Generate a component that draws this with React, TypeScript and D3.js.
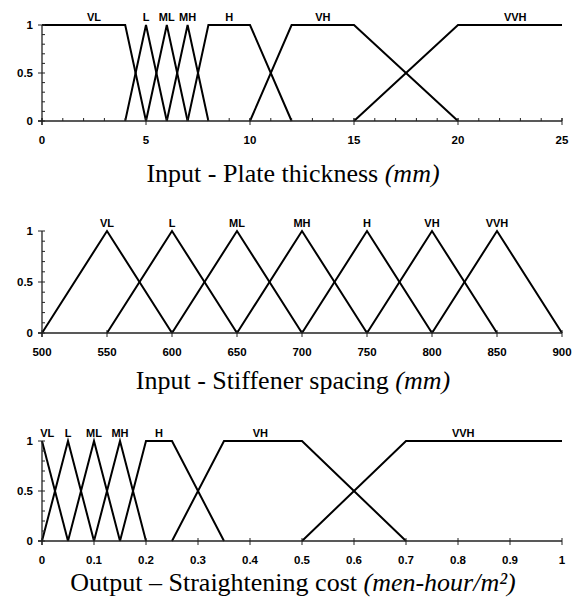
import React from 'react';
import * as d3 from 'd3';

// membership sets as trapezoids [a, b, c, d]: 0 at a, 1 from b to c, 0 at d
const setNames = ['VL', 'L', 'ML', 'MH', 'H', 'VH', 'VVH'];

const thicknessSets = [
  [0, 0, 4, 5], [4, 5, 5, 6], [5, 6, 6, 7], [6, 7, 7, 8],
  [7, 8, 10, 12], [10, 12, 15, 20], [15, 20, 25, 25],
];
const thicknessLabelX = [2.5, 5, 6, 7, 9, 13.5, 22.75];
const thicknessTicks = [0, 5, 10, 15, 20, 25];
const thicknessMinor = d3.range(0, 26, 1);

const spacingSets = [
  [500, 550, 550, 600], [550, 600, 600, 650], [600, 650, 650, 700], [650, 700, 700, 750],
  [700, 750, 750, 800], [750, 800, 800, 850], [800, 850, 850, 900],
];
const spacingLabelX = [550, 600, 650, 700, 750, 800, 850];
const spacingTicks = [500, 550, 600, 650, 700, 750, 800, 850, 900];

const costSets = [
  [0, 0, 0, 0.05], [0, 0.05, 0.05, 0.1], [0.05, 0.1, 0.1, 0.15], [0.1, 0.15, 0.15, 0.2],
  [0.15, 0.2, 0.25, 0.35], [0.25, 0.35, 0.5, 0.7], [0.5, 0.7, 1, 1],
];
const costLabelX = [0.01, 0.05, 0.1, 0.15, 0.225, 0.42, 0.81];
const costTicks = [0, 0.1, 0.2, 0.3, 0.4, 0.5, 0.6, 0.7, 0.8, 0.9, 1];

const yTicks = [0, 0.5, 1];
const yMinor = d3.range(0, 1.01, 0.1);

const sansBold = 'Liberation Sans, Arial, sans-serif';
const serif = 'Liberation Serif, Times New Roman, serif';

interface PanelProps {
  domain: [number, number];
  sets: number[][];
  labelX: number[];
  ticks: number[];
  minor?: number[];
  y0: number;
  y1: number;
  title: string;
  unit: string;
  titleY: number;
}

const Panel: React.FC<PanelProps> = ({ domain, sets, labelX, ticks, minor, y0, y1, title, unit, titleY }) => {
  const x = d3.scaleLinear().domain(domain).range([42, 562]);
  const y = d3.scaleLinear().domain([0, 1]).range([y0, y1]);
  const line = d3.line<[number, number]>().x(d => x(d[0])).y(d => y(d[1]));

  const setPath = (s: number[]) => {
    const [a, b, c, d] = s;
    const pts: [number, number][] = [];
    if (a !== b) pts.push([a, 0]);
    pts.push([b, 1]);
    if (c !== b) pts.push([c, 1]);
    if (d !== c) pts.push([d, 0]);
    return line(pts) || '';
  };

  const axisColor = '#222';

  return (
    <g>
      {/* membership functions */}
      {sets.map((s, i) => (
        <path key={i} d={setPath(s)} fill="none" stroke="#000" strokeWidth={2} strokeLinejoin="miter" />
      ))}
      {/* axes */}
      <line x1={x(domain[0]) - 4} x2={x(domain[1])} y1={y(0)} y2={y(0)} stroke={axisColor} strokeWidth={1.3} />
      <line x1={x(domain[0])} x2={x(domain[0])} y1={y(0) + 4} y2={y(1)} stroke={axisColor} strokeWidth={1.3} />
      {(minor || []).map((t, i) => (
        <line key={'mx' + i} x1={x(t)} x2={x(t)} y1={y(0)} y2={y(0) - 3} stroke={axisColor} strokeWidth={1} />
      ))}
      {ticks.map((t, i) => (
        <g key={'tx' + i}>
          <line x1={x(t)} x2={x(t)} y1={y(0) - 3} y2={y(0) + 4} stroke={axisColor} strokeWidth={1} />
          <text x={x(t)} y={y(0) + 23} textAnchor="middle" fontFamily={sansBold} fontWeight="bold" fontSize={11.5}>
            {String(t)}
          </text>
        </g>
      ))}
      {yMinor.map((t, i) => (
        <line key={'my' + i} x1={x(domain[0])} x2={x(domain[0]) + 3} y1={y(t)} y2={y(t)} stroke={axisColor} strokeWidth={1} />
      ))}
      {yTicks.map((t, i) => (
        <g key={'ty' + i}>
          <line x1={x(domain[0]) - 4} x2={x(domain[0])} y1={y(t)} y2={y(t)} stroke={axisColor} strokeWidth={1} />
          <text x={33} y={y(t) + 4} textAnchor="end" fontFamily={sansBold} fontWeight="bold" fontSize={11.5}>
            {t}
          </text>
        </g>
      ))}
      {/* set labels */}
      {setNames.map((n, i) => (
        <text key={'l' + i} x={x(labelX[i])} y={y(1) - 4} textAnchor="middle" fontFamily={sansBold} fontWeight="bold" fontSize={11}>
          {n}
        </text>
      ))}
      <text x={293} y={titleY} textAnchor="middle" fontFamily={serif} fontSize={26}>
        {title}
        <tspan fontStyle="italic">{unit}</tspan>
      </text>
    </g>
  );
};

export default function App() {
  return (
    <svg width={575} height={599} style={{ position: 'absolute', left: 0, top: 0, background: '#fff' }}>
      <rect width={575} height={599} fill="#fff" />
      <Panel domain={[0, 25]} sets={thicknessSets} labelX={thicknessLabelX} ticks={thicknessTicks} minor={thicknessMinor}
        y0={121} y1={25} title="Input - Plate thickness " unit="(mm)" titleY={182} />
      <Panel domain={[500, 900]} sets={spacingSets} labelX={spacingLabelX} ticks={spacingTicks}
        y0={333} y1={231} title="Input - Stiffener spacing " unit="(mm)" titleY={389} />
      <Panel domain={[0, 1]} sets={costSets} labelX={costLabelX} ticks={costTicks}
        y0={541} y1={441} title="Output – Straightening cost " unit="(men-hour/m²)" titleY={591} />
    </svg>
  );
}
